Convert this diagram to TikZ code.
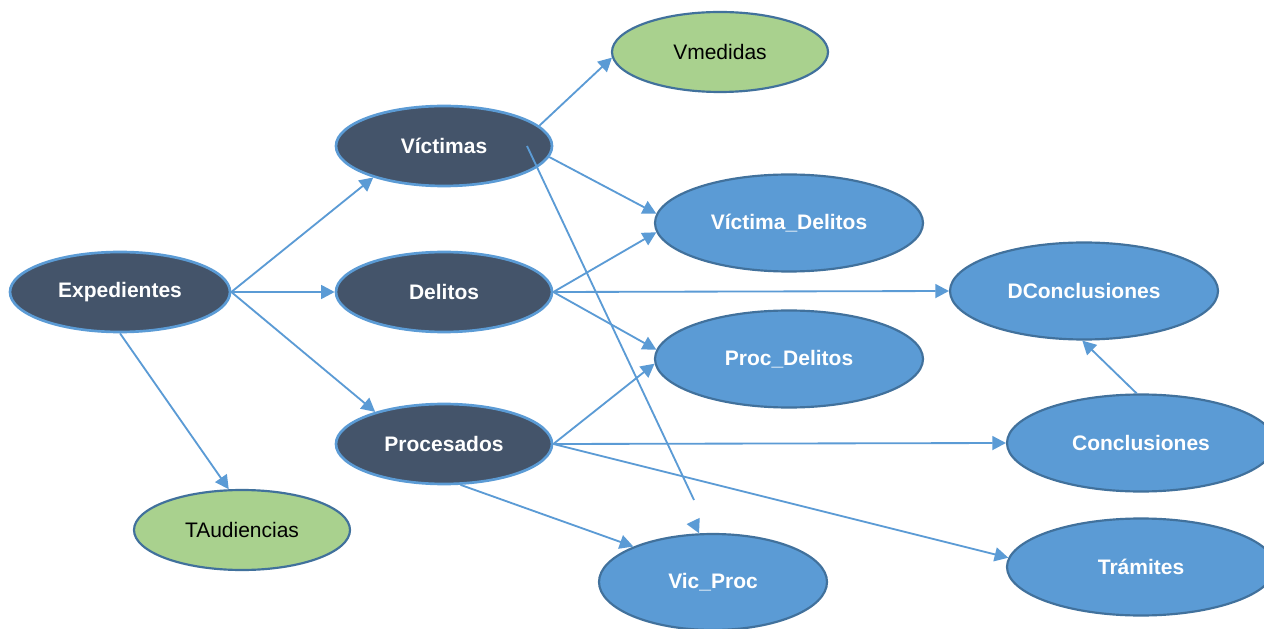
\documentclass[tikz,border=0pt]{standalone}
\usepackage{fontspec}
\setmainfont{Liberation Sans}
\usetikzlibrary{shapes.geometric,arrows.meta,calc}
\definecolor{darkfill}{HTML}{44546A}
\definecolor{lightblue}{HTML}{5B9BD5}
\definecolor{darkborder}{HTML}{41719C}
\definecolor{greenfill}{HTML}{A9D18E}
\tikzset{
  base/.style={ellipse, inner sep=0pt, font=\fontsize{12.6}{15}\selectfont},
  darknode/.style={base, fill=darkfill, draw=lightblue, line width=1.6pt, text=white, font=\fontsize{12.6}{15}\selectfont\bfseries, minimum width=129.6pt, minimum height=48pt},
  bluenode/.style={base, fill=lightblue, draw=darkborder, line width=1.3pt, text=white, font=\fontsize{12.6}{15}\selectfont\bfseries, minimum width=160.8pt, minimum height=58.2pt},
  greennode/.style={base, fill=greenfill, draw=darkborder, line width=1.3pt, text=black, minimum width=129.6pt, minimum height=48pt},
  conn/.style={draw=lightblue, line width=1.1pt},
  arr/.style={conn, -{Triangle[length=8.2pt,width=8.4pt]}}
}
\begin{document}
\begin{tikzpicture}[x=0.6pt,y=-0.6pt]
\fill[white] (0,0) rectangle (1264,629);
\useasboundingbox (0,0) rectangle (1264,629);
% nodes
\node[darknode, minimum width=132pt] (exp) at (120,292) {Expedientes};
\node[darknode] (vic) at (444,146) {Víctimas};
\node[darknode] (del) at (444,292) {Delitos};
\node[darknode] (pro) at (444,444) {Procesados};
\node[greennode] (vm) at (720,52) {Vmedidas};
\node[greennode] (ta) at (242,530) {TAudiencias};
\node[bluenode] (vd) at (789,223) {Víctima\_Delitos};
\node[bluenode] (pd) at (789,359) {Proc\_Delitos};
\node[bluenode] (dc) at (1084,291) {DConclusiones};
\node[bluenode] (con) at (1141,443) {Conclusiones};
\node[bluenode] (tr) at (1141,567) {Trámites};
\node[bluenode, minimum width=136.8pt, minimum height=57.6pt] (vp) at (713,582) {Vic\_Proc};
% connectors
\draw[arr] (exp.east) -- (vic.204);
\draw[arr] (exp.east) -- (del.west);
\draw[arr] (exp.east) -- (pro.155);
\draw[arr] (exp.south) -- (ta.108);
\draw[arr] (vic.12) -- (vm.183);
\draw[arr] (vic.354) -- (vd.176);
\coordinate (gapend) at (694,500);
\draw[conn] ($(vic.center)+(83,0)$) -- (gapend);
\draw[arr] ($(vp.106.6)+(-5,-10.5)$) -- (vp.106.6);
\draw[arr] (del.east) -- (vd.184);
\draw[arr] (del.east) -- (dc.west);
\draw[arr] (del.east) -- (pd.176);
\draw[arr] (pro.east) -- (pd.182);
\draw[arr] (pro.east) -- (con.west);
\draw[arr] (pro.east) -- (tr.176);
\draw[arr] (pro.292) -- (vp.156);
\draw[arr] (con.95) -- (dc.268);
\end{tikzpicture}
\end{document}
